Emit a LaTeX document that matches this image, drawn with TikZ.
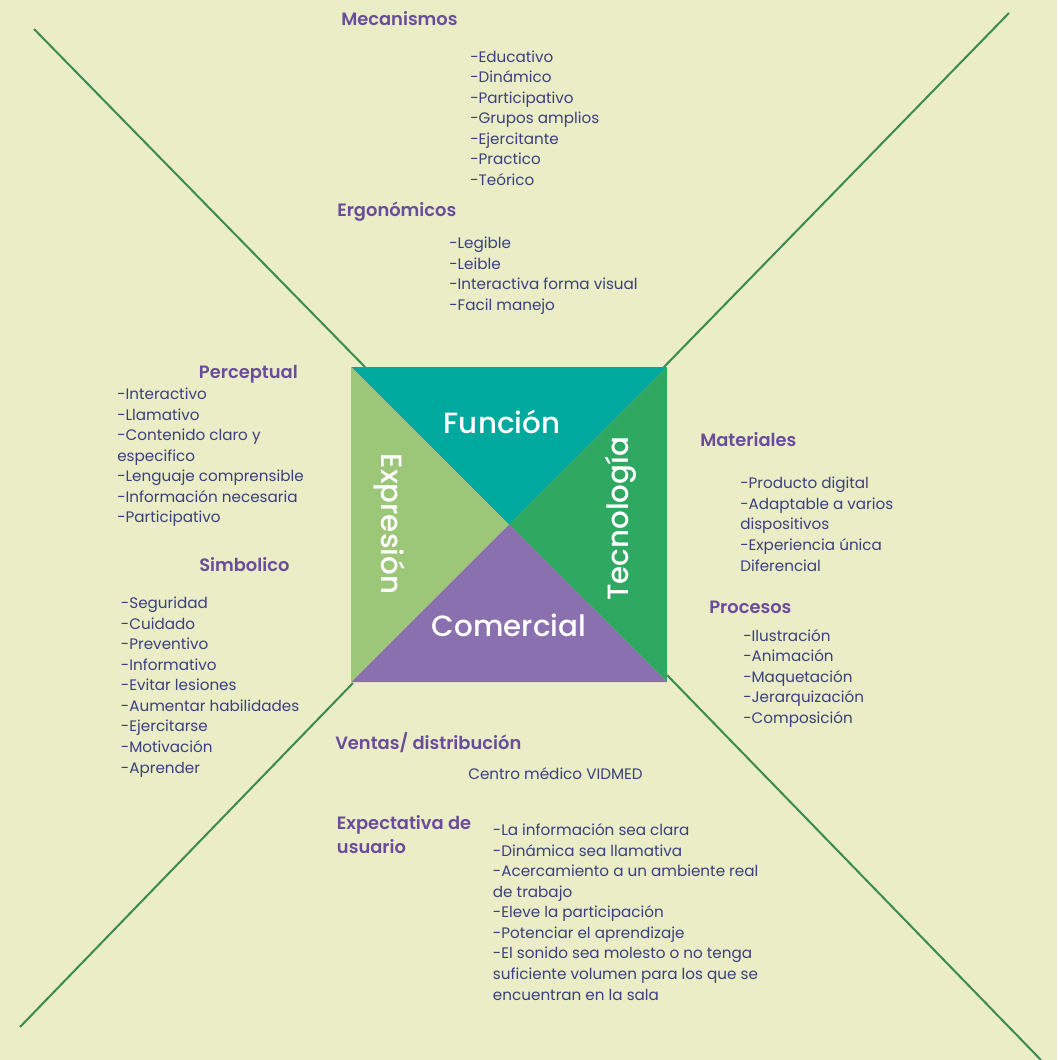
\documentclass[tikz,border=0pt]{standalone}
\usepackage{fontspec}
\setmainfont{Poppins}[BoldFont={Poppins SemiBold}]
\newfontfamily\carafont{Poppins Medium}
\definecolor{fondo}{HTML}{EAEDC6}
\definecolor{morado}{HTML}{6A4C9C}
\definecolor{azul}{HTML}{3C3F7F}
\definecolor{linea}{HTML}{3B8A50}
\definecolor{funcion}{HTML}{00A99D}
\definecolor{tecno}{HTML}{2FA862}
\definecolor{comercial}{HTML}{8B70AF}
\definecolor{expresion}{HTML}{9DC778}

\begin{document}
\begin{tikzpicture}[x=0.75pt,y=-0.75pt,
	titulo/.style={anchor=base west,inner sep=0pt,text=morado,font=\bfseries\fontsize{13.4}{17.5}\selectfont},
	lista/.style={anchor=base west,inner sep=0pt,align=left,text=azul,font=\fontsize{11.4}{15.4}\selectfont},
	cara/.style={anchor=base,inner sep=0pt,text=white,font=\carafont\fontsize{22}{26}\selectfont},
	eje/.style={draw=linea,line width=1.5pt}]
	\fill[fondo] (0,0) rectangle (1057,1060);
	\useasboundingbox (0,0) rectangle (1057,1060);

	% ends of the four lines
	\coordinate (tlOut) at (34,29);
	\coordinate (trOut) at (1009,13);
	\coordinate (blOut) at (20,1027);
	\coordinate (brOut) at (1041,1060);
	\coordinate (tlIn) at (365,367);
	\coordinate (trIn) at (663,368);
	\coordinate (blIn) at (353,683);
	\coordinate (brIn) at (667,675);
	\draw[eje] (tlOut) -- (tlIn);
	\draw[eje] (trOut) -- (trIn);
	\draw[eje] (blOut) -- (blIn);
	\draw[eje] (brIn) -- (brOut);

	% the square
	\coordinate (nw) at (351,367);
	\coordinate (ne) at (667,367);
	\coordinate (se) at (667,682);
	\coordinate (sw) at (351,682);
	\coordinate (c) at (509,524.5);
	\fill[funcion] (nw) -- (ne) -- (c) -- cycle;
	\fill[tecno] (ne) -- (se) -- (c) -- cycle;
	\fill[comercial] (se) -- (sw) -- (c) -- cycle;
	\fill[expresion] (sw) -- (nw) -- (c) -- cycle;
	\node[cara] (fun) at (502,433) {Función};
	\node[cara] (com) at (509,636.7) {Comercial};
	\node[cara,rotate=-90] (exp) at (381.5,524) {Expresión};
	\node[cara,rotate=90] (tec) at (628,519) {Tecnología};

	% top (lists are placed by their last line)
	\node[titulo] (mec) at (341,25) {Mecanismos};
	\node[lista] (mecL) at (470,185.5) {-Educativo\\-Dinámico\\-Participativo\\-Grupos amplios\\-Ejercitante\\-Practico\\-Teórico};
	\node[titulo] (erg) at (337,216.7) {Ergonómicos};
	\node[lista] (ergL) at (449,310.5) {-Legible\\-Leible\\-Interactiva forma visual\\-Facil manejo};

	% left
	\node[titulo,anchor=base east] (per) at (298,378) {Perceptual};
	\node[lista] (perL) at (117,522.7) {-Interactivo\\-Llamativo\\-Contenido claro y\\especifico\\-Lenguaje comprensible\\-Información necesaria\\-Participativo};
	\node[titulo] (sim) at (199,571.7) {Simbolico};
	\node[lista] (simL) at (120.7,773) {-Seguridad\\-Cuidado\\-Preventivo\\-Informativo\\-Evitar lesiones\\-Aumentar habilidades\\-Ejercitarse\\-Motivación\\-Aprender};

	% right
	\node[titulo] (mat) at (700,446.7) {Materiales};
	\node[lista] (matL) at (740,571) {-Producto digital\\-Adaptable a varios\\dispositivos\\-Experiencia única\\Diferencial};
	\node[titulo] (pro) at (709,613.3) {Procesos};
	\node[lista] (proL) at (743,723.3) {-Ilustración\\-Animación\\-Maquetación\\-Jerarquización\\-Composición};

	% bottom
	\node[titulo] (ven) at (335,749.3) {Ventas/ distribución};
	\node[lista] (venL) at (468,779.3) {Centro médico VIDMED};
	\node[titulo,align=left] (usu) at (336.7,853.3) {Expectativa de\\usuario};
	\node[lista] (usuL) at (492.7,1000) {-La información sea clara\\-Dinámica sea llamativa\\-Acercamiento a un ambiente real\\de trabajo\\-Eleve la participación\\-Potenciar el aprendizaje\\-El sonido sea molesto o no tenga\\suficiente volumen para los que se\\encuentran en la sala};
\end{tikzpicture}
\end{document}
